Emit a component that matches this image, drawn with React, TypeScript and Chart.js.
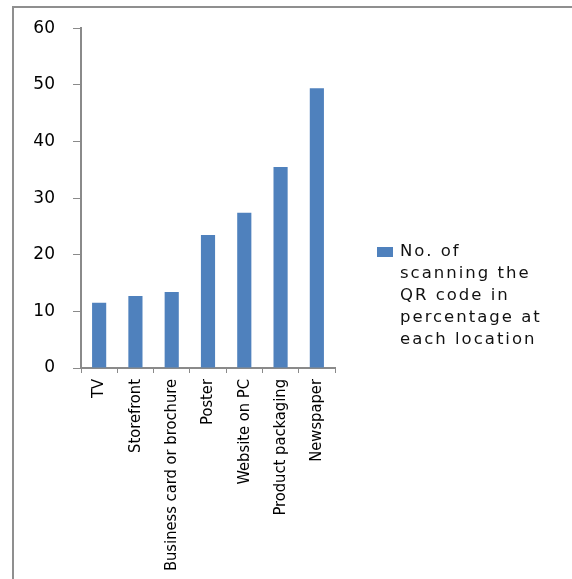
import React, { useEffect, useRef } from "react";
import { Chart, registerables } from "chart.js";

Chart.register(...registerables);

const categories = [
  "TV",
  "Storefront",
  "Business card or brochure",
  "Poster",
  "Website on PC",
  "Product packaging",
  "Newspaper",
];
const values = [11.5, 12.7, 13.4, 23.5, 27.4, 35.5, 49.4];
const seriesLabel = "No. of scanning the QR code in percentage at each location";
const legendLines = ["No. of", "scanning the", "QR code in", "percentage at", "each location"];
const yMin = 0;
const yMax = 60;
const yStep = 10;

const BAR_COLOR = "#4F81BD";
const AXIS_COLOR = "#8a8a8a";

const legendPlugin = {
  id: "wrappedLegend",
  afterDraw(chart: any) {
    const ctx = chart.ctx;
    const ds = chart.data.datasets[0];
    ctx.save();
    const x = 377;
    const y0 = 252;
    ctx.fillStyle = ds.backgroundColor;
    ctx.fillRect(x, y0 - 5, 16, 10);
    ctx.fillStyle = "#111";
    ctx.font = "16.5px 'DejaVu Sans'";
    (ctx as any).letterSpacing = "2px";
    ctx.textBaseline = "middle";
    ctx.textAlign = "left";
    legendLines.forEach((line, i) => {
      ctx.fillText(line, 400, y0 + i * 22);
    });
    // outer frame (top and left edges only)
    ctx.fillStyle = "#8f8f8f";
    ctx.fillRect(12, 6, 560, 2);
    ctx.fillRect(12, 6, 2, 573);
    ctx.restore();
  },
};

export default function App() {
  const ref = useRef<HTMLCanvasElement | null>(null);

  useEffect(() => {
    if (!ref.current) return;
    const chart = new Chart(ref.current, {
      type: "bar",
      data: {
        labels: categories,
        datasets: [
          {
            label: seriesLabel,
            data: values,
            backgroundColor: BAR_COLOR,
            borderWidth: 0,
            barPercentage: 0.39,
            categoryPercentage: 1,
          },
        ],
      },
      options: {
        responsive: false,
        animation: false,
        layout: { padding: { left: 0, right: 237, top: 28, bottom: 0 } },
        plugins: {
          legend: { display: false },
          tooltip: { enabled: false },
        },
        scales: {
          x: {
            grid: {
              display: true,
              drawOnChartArea: false,
              drawTicks: true,
              tickLength: 5,
              color: AXIS_COLOR,
              offset: true,
            },
            border: { display: true, color: AXIS_COLOR, width: 2 },
            ticks: {
              maxRotation: 90,
              minRotation: 90,
              autoSkip: false,
              padding: 6,
              color: "#000",
              font: { family: "'Liberation Sans Narrow', 'DejaVu Sans Condensed', sans-serif", size: 16.4 },
            },
            afterFit(scale: any) {
              scale.height = 211;
            },
          },
          y: {
            min: yMin,
            max: yMax,
            grid: {
              display: true,
              drawOnChartArea: false,
              drawTicks: true,
              tickLength: 8,
              color: AXIS_COLOR,
            },
            border: { display: true, color: AXIS_COLOR, width: 2 },
            ticks: {
              stepSize: yStep,
              padding: 18,
              color: "#000",
              font: { family: "'DejaVu Sans', sans-serif", size: 17 },
            },
            afterFit(scale: any) {
              scale.width = 81;
            },
          },
        },
      },
      plugins: [legendPlugin],
    });
    return () => chart.destroy();
  }, []);

  return (
    <div style={{ position: "absolute", left: 0, top: 0, width: 572, height: 579, background: "#fff", overflow: "hidden" }}>
      <canvas ref={ref} width={572} height={579} style={{ position: "absolute", left: 0, top: 0, display: "block" }} />
    </div>
  );
}
